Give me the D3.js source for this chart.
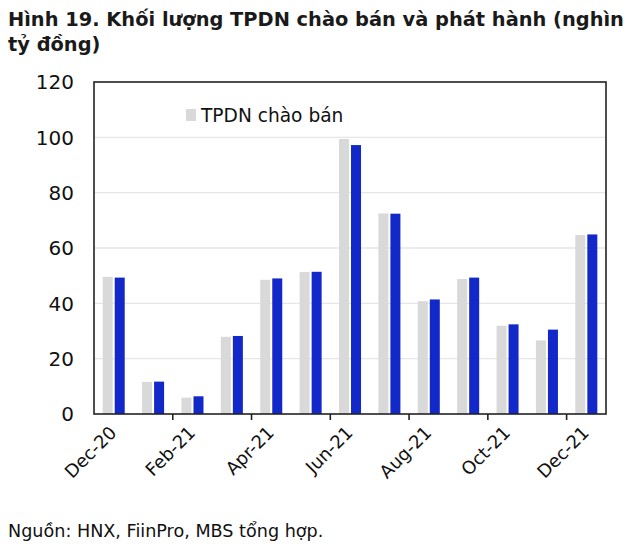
<!DOCTYPE html>
<html>
<head>
<meta charset="utf-8">
<script src="https://cdn.jsdelivr.net/npm/d3@7"></script>
<style>
  body { margin: 0; background: #fff; }
  svg { display: block; font-family: "DejaVu Sans", Verdana, sans-serif; }
</style>
</head>
<body>
<div id="chart"></div>
<script>
const months = ["Dec-20", "Jan-21", "Feb-21", "Mar-21", "Apr-21", "May-21", "Jun-21",
                "Jul-21", "Aug-21", "Sep-21", "Oct-21", "Nov-21", "Dec-21"];
const offered = [49.6, 11.6, 5.9, 27.9, 48.5, 51.3, 99.4, 72.5, 40.8, 48.8, 31.9, 26.6, 64.7];
const issued  = [49.3, 11.7, 6.4, 28.2, 49.0, 51.4, 97.2, 72.4, 41.4, 49.3, 32.4, 30.5, 64.9];
const yTicks = [0, 20, 40, 60, 80, 100, 120];
const titleLines = ["Hình 19. Khối lượng TPDN chào bán và phát hành (nghìn", "tỷ đồng)"];
const legendLabel = "TPDN chào bán";
const sourceNote = "Nguồn: HNX, FiinPro, MBS tổng hợp.";

const width = 630, height = 553;
const margin = { left: 94, right: 24, top: 82, bottom: 139 };

const svg = d3.select("#chart").append("svg")
    .attr("width", width).attr("height", height);

// title
svg.append("g").selectAll("text").data(titleLines).enter().append("text")
    .attr("x", 8).attr("y", (d, i) => 26 + i * 25)
    .attr("font-size", 19.4).attr("font-weight", "bold").attr("fill", "#1a1a1a")
    .text(d => d);

const x = d3.scaleBand().domain(months)
    .range([margin.left, width - margin.right]).padding(0);
const x1 = d3.scaleBand().domain(["offered", "issued"])
    .range([0, x.bandwidth()]).paddingInner(0.17).paddingOuter(0.72);
const y = d3.scaleLinear().domain([0, 120])
    .range([height - margin.bottom, margin.top]);

// gridlines
svg.append("g").selectAll("line").data(yTicks.filter(d => d > 0 && d < 120)).enter().append("line")
    .attr("x1", margin.left).attr("x2", width - margin.right)
    .attr("y1", d => y(d)).attr("y2", d => y(d))
    .attr("stroke", "#e6e6e6").attr("stroke-width", 1.3);

// y labels
svg.append("g").selectAll("text").data(yTicks).enter().append("text")
    .attr("x", 74).attr("y", d => y(d)).attr("dy", "0.36em")
    .attr("text-anchor", "end").attr("font-size", 20).attr("fill", "#111")
    .text(d => d);

// bars
const groups = svg.append("g").selectAll("g").data(months).enter().append("g")
    .attr("transform", d => `translate(${x(d)},0)`);
groups.append("rect")
    .attr("x", x1("offered")).attr("width", x1.bandwidth())
    .attr("y", (d, i) => y(offered[i])).attr("height", (d, i) => y(0) - y(offered[i]))
    .attr("fill", "#d9d9d9");
groups.append("rect")
    .attr("x", x1("issued")).attr("width", x1.bandwidth())
    .attr("y", (d, i) => y(issued[i])).attr("height", (d, i) => y(0) - y(issued[i]))
    .attr("fill", "#1228c8");

// frame
svg.append("rect")
    .attr("x", margin.left).attr("y", margin.top)
    .attr("width", width - margin.left - margin.right)
    .attr("height", height - margin.top - margin.bottom)
    .attr("fill", "none").attr("stroke", "#222").attr("stroke-width", 1.6);

// x ticks at every second category boundary
const tickIdx = d3.range(2, months.length, 2);
svg.append("g").selectAll("line").data(tickIdx).enter().append("line")
    .attr("x1", d => x(months[d])).attr("x2", d => x(months[d]))
    .attr("y1", y(0)).attr("y2", y(0) + 6)
    .attr("stroke", "#222").attr("stroke-width", 1.6);

// x labels
const labelled = months.filter((d, i) => i % 2 === 0);
svg.append("g").selectAll("text").data(labelled).enter().append("text")
    .attr("transform", d => `translate(${x(d) + x.bandwidth() / 2 - 5},${y(0) + 11}) rotate(-45)`)
    .attr("text-anchor", "end").attr("dy", "0.7em")
    .attr("font-size", 18).attr("fill", "#111")
    .text(d => d);

// legend
svg.append("rect").attr("x", 186).attr("y", 109).attr("width", 10).attr("height", 12)
    .attr("fill", "#d9d9d9");
svg.append("text").attr("x", 201).attr("y", 122)
    .attr("font-size", 18.6).attr("fill", "#111").text(legendLabel);

// source
svg.append("text").attr("x", 8).attr("y", 537)
    .attr("font-size", 17.6).attr("fill", "#111").text(sourceNote);
</script>
</body>
</html>
